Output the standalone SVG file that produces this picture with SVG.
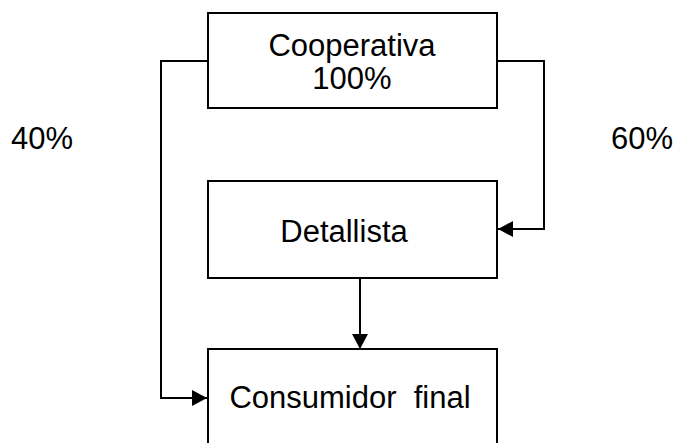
<svg xmlns="http://www.w3.org/2000/svg" width="676" height="443" viewBox="0 0 676 443">
<style>
.box{fill:#fff;stroke:#000;stroke-width:2}
.t{font-family:"Liberation Sans",Arial,sans-serif;font-size:31px;fill:#000;text-anchor:middle}
.c{fill:none;stroke:#000;stroke-width:2}
</style>
<defs>
<marker id="ah" viewBox="0 0 15 16" refX="15" refY="8" markerWidth="15" markerHeight="16" markerUnits="userSpaceOnUse" orient="auto">
<path d="M0,0 L15,8 L0,16 Z" fill="#000"/>
</marker>
</defs>
<g id="connectors">
<path class="c" d="M208,61 H161 V398 H207" marker-end="url(#ah)"/>
<path class="c" d="M497,61 H544 V229 H498" marker-end="url(#ah)"/>
<path class="c" d="M360,279 V349" marker-end="url(#ah)"/>
</g>
<g id="cooperativa">
<rect class="box" x="208" y="13" width="289" height="95"/>
<text class="t" x="352" y="56">Cooperativa</text>
<text class="t" x="352" y="89">100%</text>
</g>
<g id="detallista">
<rect class="box" x="208" y="181" width="289" height="97"/>
<text class="t" x="344" y="242">Detallista</text>
</g>
<g id="consumidor">
<rect class="box" x="208" y="349" width="289" height="110"/>
<text class="t" x="350" y="408" xml:space="preserve">Consumidor  final</text>
</g>
<g id="labels">
<text class="t" x="42" y="149">40%</text>
<text class="t" x="642" y="149">60%</text>
</g>
</svg>
